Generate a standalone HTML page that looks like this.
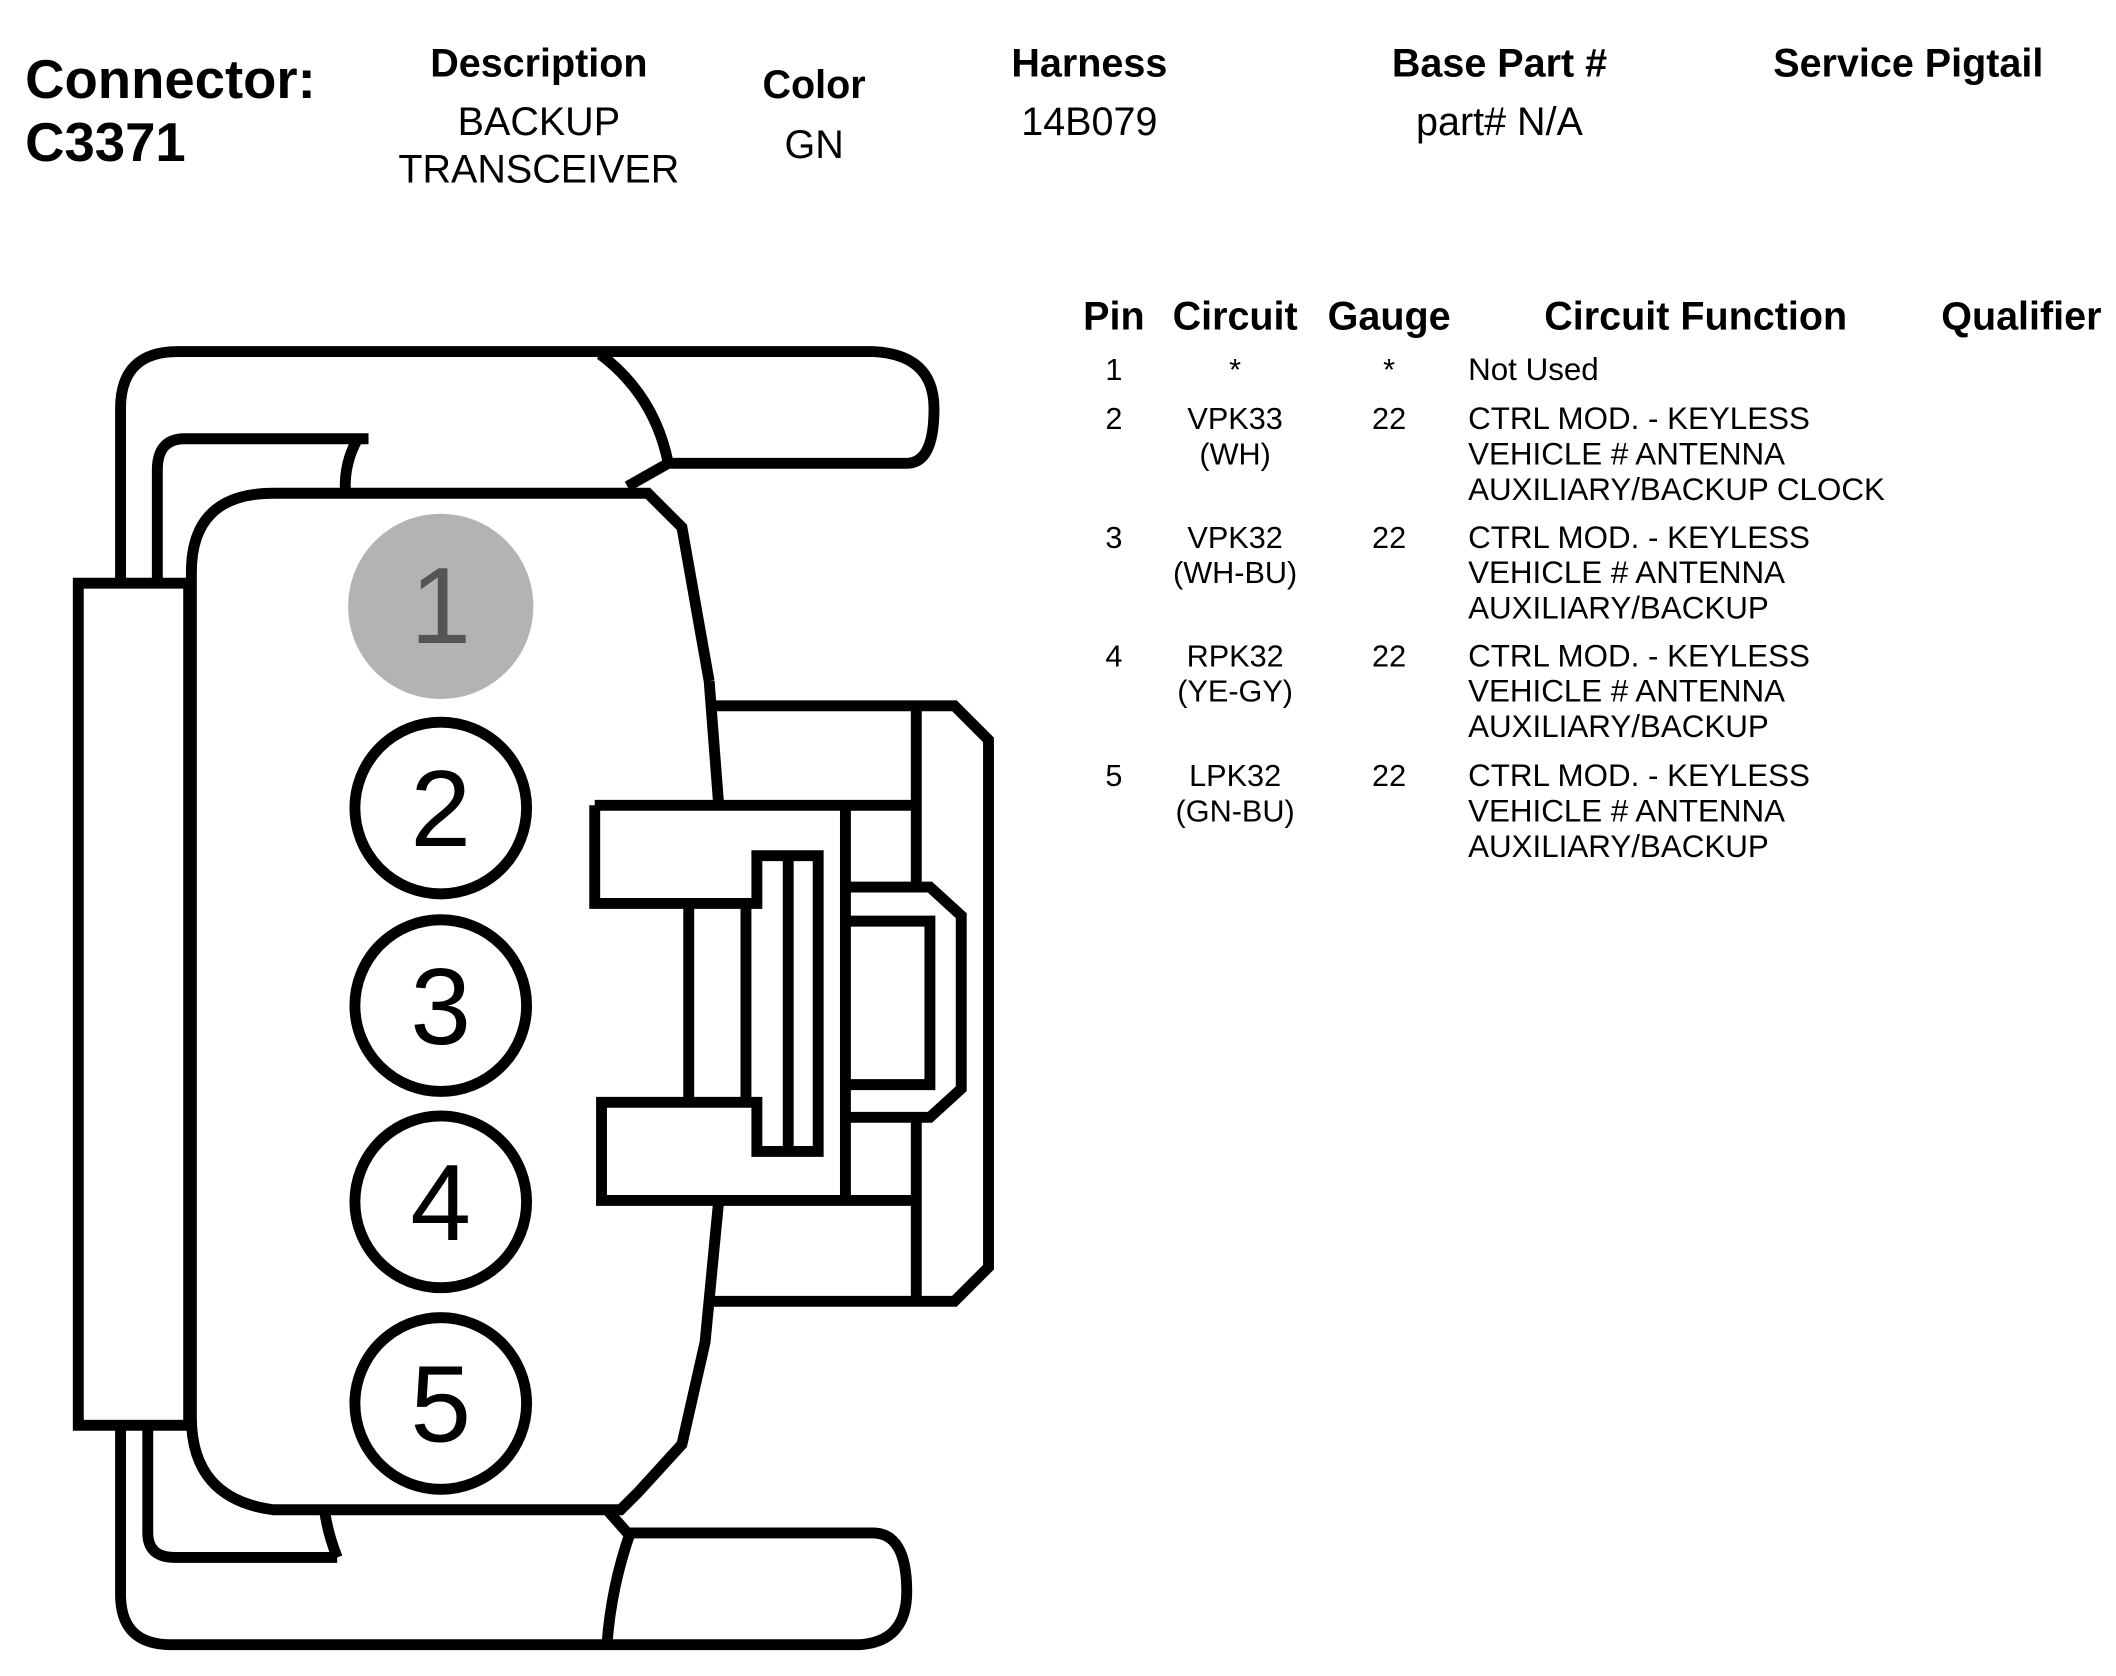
<!DOCTYPE html>
<html><head><meta charset="utf-8"><style>
html,body{margin:0;padding:0;background:#fff;}
svg{display:block;}
text{font-family:"Liberation Sans",Arial,sans-serif;fill:#000;}
.b{font-weight:bold;}
</style></head><body>
<svg width="2116" height="1676" viewBox="0 0 1552 1230" xmlns="http://www.w3.org/2000/svg">
<rect width="1552" height="1230" fill="#fff"/>
<text x="18" y="72" class="b" font-size="40">Connector:</text>
<text x="18" y="118" class="b" font-size="40">C3371</text>
<g text-anchor="middle">
<text x="395" y="56" class="b" font-size="29">Description</text>
<text x="395" y="99" font-size="29">BACKUP</text>
<text x="395" y="134" font-size="29">TRANSCEIVER</text>
<text x="597" y="72" class="b" font-size="29">Color</text>
<text x="597" y="116" font-size="29">GN</text>
<text x="799" y="56" class="b" font-size="29">Harness</text>
<text x="799" y="99" font-size="29">14B079</text>
<text x="1100" y="56" class="b" font-size="29">Base Part #</text>
<text x="1100" y="99" font-size="29">part# N/A</text>
<text x="1400" y="56" class="b" font-size="29">Service Pigtail</text>
<text x="817" y="242" class="b" font-size="29">Pin</text>
<text x="906" y="242" class="b" font-size="29">Circuit</text>
<text x="1019" y="242" class="b" font-size="29">Gauge</text>
<text x="1244" y="242" class="b" font-size="29">Circuit Function</text>
<text x="1483" y="242" class="b" font-size="29">Qualifier</text>
<g font-size="22.5">
<text x="817" y="279">1</text><text x="906" y="279">*</text><text x="1019" y="279">*</text>
<text x="817" y="315">2</text><text x="906" y="315">VPK33</text><text x="906" y="341">(WH)</text><text x="1019" y="315">22</text>
<text x="817" y="402">3</text><text x="906" y="402">VPK32</text><text x="906" y="428">(WH-BU)</text><text x="1019" y="402">22</text>
<text x="817" y="489">4</text><text x="906" y="489">RPK32</text><text x="906" y="515">(YE-GY)</text><text x="1019" y="489">22</text>
<text x="817" y="577">5</text><text x="906" y="577">LPK32</text><text x="906" y="603">(GN-BU)</text><text x="1019" y="577">22</text>
</g>
</g>
<g font-size="23">
<text x="1077" y="279">Not Used</text>
<text x="1077" y="315">CTRL MOD. - KEYLESS</text><text x="1077" y="341">VEHICLE # ANTENNA</text><text x="1077" y="367">AUXILIARY/BACKUP CLOCK</text>
<text x="1077" y="402">CTRL MOD. - KEYLESS</text><text x="1077" y="428">VEHICLE # ANTENNA</text><text x="1077" y="454">AUXILIARY/BACKUP</text>
<text x="1077" y="489">CTRL MOD. - KEYLESS</text><text x="1077" y="515">VEHICLE # ANTENNA</text><text x="1077" y="541">AUXILIARY/BACKUP</text>
<text x="1077" y="577">CTRL MOD. - KEYLESS</text><text x="1077" y="603">VEHICLE # ANTENNA</text><text x="1077" y="629">AUXILIARY/BACKUP</text>
</g>
<g fill="none" stroke="#000" stroke-width="8" stroke-linejoin="miter">
<path d="M88,428 L88,300 Q88,258 130,258 L640,258 Q685,260 685,300 Q685,340 665,340 L490,340 L460,357"/>
<path d="M440,260 Q480,290 490,340"/>
<path d="M115,428 L115,345 Q115,322 135,322 L270,322"/>
<path d="M262,322 Q252,340 253,360"/>
<path d="M88,1045 L88,1170 Q88,1207 125,1207 L630,1207 Q665,1205 665,1168 Q665,1125 640,1125 L460,1125 L445,1108"/>
<path d="M462,1125 Q448,1165 445,1207"/>
<path d="M108,1048 L108,1125 Q108,1143 128,1143 L247,1143"/>
<path d="M247,1143 Q240,1125 238,1110"/>
<rect x="57" y="428" width="81" height="618"/>
<path d="M520,500 L527,591 M527,881 L517,985 L500,1060 L468,1095 L455,1108 L200,1108 Q140,1100 140,1040 L140,420 Q140,362 200,362 L475,362 L500,387 L520,500"/>
<path d="M520,518 L700,518 L725,543 L725,930 L700,955 L520,955"/>
<path d="M672,518 L672,651 M672,820 L672,955"/>
<path d="M436,591 L672,591 M436,591 L436,663 L555,663 L555,628 L600,628 L600,845 L555,845 L555,809 L441,809 L441,881 L672,881"/>
<path d="M578,628 L578,845"/>
<path d="M620,591 L620,881"/>
<path d="M505,663 L505,809 M547,663 L547,809"/>
<path d="M620,651 L682,651 L705,672 L705,799 L682,820 L620,820"/>
<path d="M620,676 L682,676 L682,796 L620,796"/>
</g>
<circle cx="323" cy="445" r="68" fill="#b3b3b3"/>
<text x="323" y="472" text-anchor="middle" font-size="80" style="fill:#555">1</text>
<g fill="#fff" stroke="#000" stroke-width="8">
<circle cx="323" cy="593" r="63"/>
<circle cx="323" cy="738" r="63"/>
<circle cx="323" cy="882" r="63"/>
<circle cx="323" cy="1030" r="63"/>
</g>
<g text-anchor="middle" font-size="80">
<text x="323" y="621">2</text>
<text x="323" y="766">3</text>
<text x="323" y="910">4</text>
<text x="323" y="1058">5</text>
</g>
</svg>
</body></html>
